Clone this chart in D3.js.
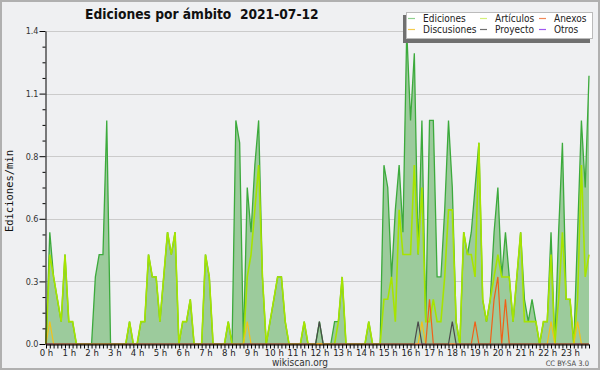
<!DOCTYPE html>
<html><head><meta charset="utf-8">
<script src="https://cdn.jsdelivr.net/npm/d3@7"></script>
<style>body{margin:0;background:#fff}svg{display:block}</style>
</head><body><svg id="c" width="600" height="370"></svg>
<script>
// ---- data (edits per minute, 10-minute bins, 2021-07-12) ----
const hourLabels = ["0 h","1 h","2 h","3 h","4 h","5 h","6 h","7 h","8 h","9 h","10 h","11 h","12 h","13 h","14 h","15 h","16 h","17 h","18 h","19 h","20 h","21 h","22 h","23 h"];
const yTicks = [0, 0.28, 0.56, 0.84, 1.12, 1.4];
const yMinor = [0.07,0.14,0.21,0.35,0.42,0.49,0.63,0.70,0.77,0.91,0.98,1.05,1.19,1.26,1.33];
const ediciones = [
 0,0.5,0.3,0.2,0.1,0.4,  0.1,0.1,0,0,0,0,  0,0.3,0.4,0.4,1.0,0,  0,0,0,0,0.1,0,
 0,0.1,0.1,0.4,0.3,0.3,  0.1,0.3,0.5,0.4,0.5,0,  0.1,0.1,0.2,0,0,0,  0.4,0.3,0,0,0,0,
 0.1,0,1.0,0.9,0,0.7,  0.5,0.8,1.0,0.3,0,0.1,  0.2,0.3,0.3,0.1,0,0,  0,0,0.1,0,0,0,
 0.1,0,0,0,0.1,0.1,  0.3,0,0,0,0,0,  0,0.1,0,0,0,0.8,  0.7,0.3,0.6,0.8,0.5,1.4,
 1.0,1.3,0.4,1.0,0.1,1.0,  1.0,0.3,0.3,0.6,1.0,0.7,  0.1,0,0.5,0.4,0.5,0.7,  0.9,0.2,0.1,0.2,0.5,0.7,
 0.3,0.5,0.3,0.1,0.3,0.5,  0.2,0.1,0.2,0.1,0,0.1,  0.1,0.5,0,0.5,0.9,0.2,  0.2,0,0.5,1.0,0.7,1.2];
const articulos = [
 0,0.4,0.3,0.2,0.1,0.4,  0.1,0.1,0,0,0,0,  0,0,0,0,0,0,  0,0,0,0,0.1,0,
 0,0.1,0.1,0.4,0.3,0.3,  0.1,0.3,0.5,0.4,0.5,0,  0.1,0.1,0.2,0,0,0,  0.4,0.3,0,0,0,0,
 0.1,0,0,0,0,0.3,  0.4,0.6,0.8,0.3,0,0.1,  0.2,0.3,0.3,0.1,0,0,  0,0,0.1,0,0,0,
 0,0,0,0,0,0.1,  0.3,0,0,0,0,0,  0,0.1,0,0,0,0.2,  0.2,0.3,0.1,0.6,0.4,0.4,
 0.4,0.8,0.4,0.7,0.1,0.1,  0.2,0.1,0.1,0.3,0.6,0.6,  0.1,0,0.5,0.4,0.4,0.3,  0.9,0.2,0.1,0.2,0.3,0.4,
 0.3,0.3,0.3,0.1,0.3,0.5,  0.1,0.1,0.1,0.1,0,0.1,  0.1,0.4,0,0.2,0.5,0.2,  0.2,0,0.2,0.8,0.3,0.4];
const discusiones = [
 0,0.1,0,0,0,0,  0,0,0,0,0,0,  0,0,0,0,0,0,  0,0,0,0,0,0,
 0,0,0,0,0,0,  0,0,0,0,0,0,  0,0,0,0,0,0,  0,0,0,0,0,0,
 0,0,0,0,0,0.1,  0,0,0,0,0,0,  0,0,0,0,0,0,  0,0,0,0,0,0,
 0,0,0,0,0,0,  0,0,0,0,0,0,  0,0,0,0,0,0,  0,0,0,0,0,0,
 0,0,0,0.1,0,0,  0,0,0,0,0,0,  0,0,0,0,0,0,  0,0,0,0,0,0,
 0,0,0,0,0,0,  0,0,0,0,0,0,  0,0.1,0,0,0,0,  0,0,0.1,0,0,0];
const proyecto = [
 0,0,0,0,0,0,  0,0,0,0,0,0,  0,0,0,0,0,0,  0,0,0,0,0,0,
 0,0,0,0,0,0,  0,0,0,0,0,0,  0,0,0,0,0,0,  0,0,0,0,0,0,
 0,0,0,0,0,0,  0,0,0,0,0,0,  0,0,0,0,0,0,  0,0,0,0,0,0,
 0.1,0,0,0,0,0,  0,0,0,0,0,0,  0,0,0,0,0,0,  0,0,0,0,0,0,
 0,0,0.1,0,0,0,  0,0,0,0,0,0.1,  0,0,0,0,0,0,  0,0,0,0,0,0,
 0,0,0,0,0,0,  0,0,0,0,0,0,  0,0,0,0,0,0,  0,0,0,0,0,0];
const anexos = [
 0,0,0,0,0,0,  0,0,0,0,0,0,  0,0,0,0,0,0,  0,0,0,0,0,0,
 0,0,0,0,0,0,  0,0,0,0,0,0,  0,0,0,0,0,0,  0,0,0,0,0,0,
 0,0,0,0,0,0,  0,0,0,0,0,0,  0,0,0,0,0,0,  0,0,0,0,0,0,
 0,0,0,0,0,0,  0,0,0,0,0,0,  0,0,0,0,0,0,  0,0,0,0,0,0,
 0,0,0,0,0,0.2,  0,0,0,0,0,0,  0,0,0,0,0,0.1,  0,0,0,0,0.2,0.3,
 0,0.2,0,0,0,0,  0,0,0,0,0,0,  0,0,0,0,0,0,  0,0,0,0,0,0];
const otros = [
 0,0,0,0,0,0,  0,0,0,0,0,0,  0,0,0,0,0,0,  0,0,0,0,0,0,
 0,0,0,0,0,0,  0,0,0,0,0,0,  0,0,0,0,0,0,  0,0,0,0,0,0,
 0,0,0,0,0,0,  0,0,0,0,0,0,  0,0,0,0,0,0,  0,0,0,0,0,0,
 0,0,0,0,0,0,  0,0,0,0,0,0,  0,0,0,0,0,0,  0,0,0,0,0,0,
 0,0,0,0,0,0,  0,0,0,0,0,0,  0,0,0,0,0,0,  0,0,0,0,0,0,
 0,0,0,0,0,0,  0,0,0,0,0,0,  0,0,0,0,0,0,  0,0,0,0,0,0];

const colors = {Ediciones:"#3caa3c", Artículos:"#a6e400", Discusiones:"#f2c21a", Proyecto:"#4a4a4a", Anexos:"#f06018", Otros:"#9a3cf0"};
const legendColors = {Ediciones:"#8fd08f", Artículos:"#d4f07a", Discusiones:"#f4cc50", Proyecto:"#707070", Anexos:"#f08858", Otros:"#a058f0"};

// ---- drawing ----
const svg = d3.select("#c");
const W = 600, H = 370;
const FONT = "'DejaVu Sans Condensed','DejaVu Sans',sans-serif";

svg.append("rect").attr("x",1).attr("y",1).attr("width",W-2).attr("height",H-2)
  .attr("fill","#eff0f2").attr("stroke","#b0b0b0").attr("stroke-width",2);

const x = d3.scaleLinear().domain([0, ediciones.length-1]).range([46, 589]);
const y = d3.scaleLinear().domain([0, 1.4]).range([344, 31]);

// grid
svg.append("g").selectAll("line").data(yTicks.filter(d=>d>0)).join("line")
  .attr("x1",46).attr("x2",589).attr("y1",d=>Math.round(y(d))+0.5).attr("y2",d=>Math.round(y(d))+0.5)
  .attr("stroke","#cbcbcb").attr("stroke-width",1);

const idx = d3.range(ediciones.length);
const area = d3.area().x(i=>x(i)).y0(y(0)).y1(i=>y(ediciones[i]));
svg.append("path").attr("d", area(idx)).attr("fill","#9ccb9c");

function drawLine(arr, color, w){
  const line = d3.line().x(i=>x(i)).y(i=>y(arr[i]));
  svg.append("path").attr("d", line(idx)).attr("fill","none").attr("stroke",color)
    .attr("stroke-width",w).attr("stroke-linejoin","miter");
}
drawLine(otros, colors.Otros, 1.2);
drawLine(ediciones, colors.Ediciones, 1.3);
drawLine(articulos, colors["Artículos"], 1.6);
drawLine(discusiones, colors.Discusiones, 1.2);
drawLine(anexos, colors.Anexos, 1.2);
drawLine(proyecto, colors.Proyecto, 1.2);

// y axis
const yAxis = svg.append("g").attr("transform","translate(45.5,0)")
  .call(d3.axisLeft(y).tickValues(yTicks).tickFormat(d3.format(".1f")).tickSize(6).tickSizeOuter(0).tickPadding(1));
svg.append("g").attr("transform","translate(45.5,0)")
  .call(d3.axisLeft(y).tickValues(yMinor).tickFormat("").tickSize(3).tickSizeOuter(0))
  .select(".domain").remove();
yAxis.selectAll("text").attr("font-family",FONT).attr("font-size",9).attr("fill","#333");

// x axis
const xAxis = svg.append("g").attr("transform","translate(0,344.5)")
  .call(d3.axisBottom(x).tickValues(idx).tickSize(4).tickSizeOuter(0).tickPadding(1)
    .tickFormat(i => i % 6 === 0 ? hourLabels[i/6] : ""));
xAxis.selectAll("text").attr("font-family",FONT).attr("font-size",9.5).attr("fill","#222");
svg.selectAll(".domain").attr("stroke","#000");
svg.selectAll(".tick line").attr("stroke","#000");

// title
svg.append("text").attr("x",85).attr("y",19).attr("font-family",FONT).attr("font-weight","bold")
  .attr("font-size",13.7).attr("fill","#111").style("white-space","pre")
  .text("Ediciones por ámbito  2021-07-12");

// y label
svg.append("text").attr("transform","translate(13,191) rotate(-90)").attr("text-anchor","middle")
  .attr("font-family","'DejaVu Sans Mono',monospace").attr("font-size",10.5).attr("fill","#111")
  .text("Ediciones/min");

// footer
svg.append("text").attr("x",300).attr("y",366).attr("text-anchor","middle").attr("font-family",FONT)
  .attr("font-size",10).attr("fill","#333").text("wikiscan.org");
svg.append("text").attr("x",589).attr("y",366).attr("text-anchor","end").attr("font-family",FONT)
  .attr("font-size",7.5).attr("fill","#444").text("CC BY-SA 3.0");

// legend
const lg = svg.append("g");
lg.append("rect").attr("x",403).attr("y",15).attr("width",187).attr("height",28).attr("fill","#707070");
lg.append("rect").attr("x",406.5).attr("y",12.5).attr("width",186).attr("height",26).attr("fill","#fff").attr("stroke","#bbb");
const legendItems = [
  {n:"Ediciones", col:0, row:0}, {n:"Artículos", col:1, row:0}, {n:"Anexos", col:2, row:0},
  {n:"Discusiones", col:0, row:1}, {n:"Proyecto", col:1, row:1}, {n:"Otros", col:2, row:1}];
const colX = [408, 480, 539];
const rowY = [18.5, 29.5];
legendItems.forEach(it=>{
  const g = lg.append("g");
  g.append("line").attr("x1",colX[it.col]).attr("x2",colX[it.col]+7).attr("y1",rowY[it.row]).attr("y2",rowY[it.row])
    .attr("stroke",legendColors[it.n]).attr("stroke-width",1.2);
  g.append("text").attr("x",colX[it.col]+15).attr("y",rowY[it.row]+3.5).attr("font-family",FONT)
    .attr("font-size",10).attr("fill","#222").text(it.n);
});
</script></body></html>
